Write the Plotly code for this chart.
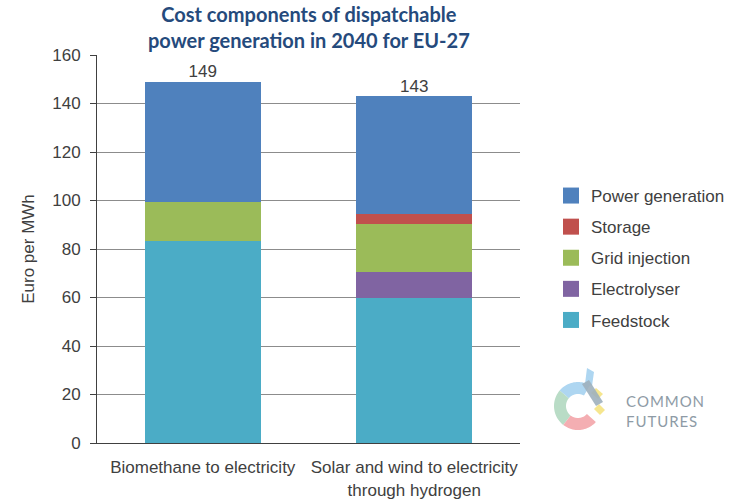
import math
import plotly.graph_objects as go

categories = ["Biomethane to electricity", "Solar and wind to electricity<br>through hydrogen"]
series_names = ["Feedstock", "Electrolyser", "Grid injection", "Storage", "Power generation"]
feedstock = [83.5, 60.0]
electrolyser = [0.0, 10.5]
grid_injection = [16.0, 20.0]
storage = [0.0, 4.0]
power_generation = [49.5, 48.5]
totals_text = ["149", "143"]
colors = {"Feedstock": "#4BACC6", "Electrolyser": "#8064A2", "Grid injection": "#9BBB59",
          "Storage": "#C0504D", "Power generation": "#4F81BD"}
y_ticks = [0, 20, 40, 60, 80, 100, 120, 140, 160]

values = [feedstock, electrolyser, grid_injection, storage, power_generation]
totals = [sum(v[i] for v in values) for i in range(len(categories))]

FONT = "Liberation Sans, Arial, sans-serif"
TXT = "#404040"

fig = go.Figure()
for name, vals in zip(series_names, values):
    fig.add_trace(go.Bar(x=categories, y=vals, name=name, marker_color=colors[name],
                         marker_line_width=0, width=0.55, showlegend=False))
# legend entries (larger square symbols), top item = top of the stack
for name in reversed(series_names):
    fig.add_trace(go.Scatter(x=[None], y=[None], mode="markers", name=name,
                             legendgroup=name,
                             marker=dict(symbol="square", size=16, color=colors[name])))
fig.add_trace(go.Scatter(x=categories, y=totals, mode="text", text=totals_text,
                         textposition="top center", showlegend=False,
                         textfont=dict(family=FONT, size=17, color=TXT)))

# logo geometry helpers (pixel -> paper)
L, T, W, H = 97, 55, 423, 388
def px(x):
    return (x - L) / W
def py(y):
    return (T + H - y) / H

def arc_path(cx, cy, r1, r2, a0, a1, n=24):
    pts = []
    for k in range(n + 1):
        a = math.radians(a0 + (a1 - a0) * k / n)
        pts.append((cx + r2 * math.cos(a), cy - r2 * math.sin(a)))
    for k in range(n, -1, -1):
        a = math.radians(a0 + (a1 - a0) * k / n)
        pts.append((cx + r1 * math.cos(a), cy - r1 * math.sin(a)))
    return "M " + " L ".join(f"{px(x):.5f},{py(y):.5f}" for x, y in pts) + " Z"

def poly_path(pts):
    return "M " + " L ".join(f"{px(x):.5f},{py(y):.5f}" for x, y in pts) + " Z"

shapes = []
cx, cy = 578, 406
for a0, a1, col in [(60, 140, "#AED6F1"), (140, 232, "#B9DCC6"), (232, 318, "#F4AEB2")]:
    shapes.append(dict(type="path", xref="paper", yref="paper", path=arc_path(cx, cy, 12, 24, a0, a1),
                       fillcolor=col, line_width=0, layer="above"))
shapes.append(dict(type="path", xref="paper", yref="paper",
                   path=poly_path([(587, 368), (594, 372), (592, 386), (585, 384)]),
                   fillcolor="#AED6F1", line_width=0))
shapes.append(dict(type="path", xref="paper", yref="paper",
                   path=poly_path([(596, 388), (603, 394), (598, 399), (591, 393)]),
                   fillcolor="#F6E68E", line_width=0))
shapes.append(dict(type="path", xref="paper", yref="paper",
                   path=poly_path([(599, 404), (605, 410), (600, 415), (594, 409)]),
                   fillcolor="#F6E68E", line_width=0))
shapes.append(dict(type="path", xref="paper", yref="paper",
                   path=poly_path([(582, 384), (589, 380), (603, 402), (596, 406)]),
                   fillcolor="#9FB0BC", line_width=0, opacity=0.9))

HS = "\u200a"
fig.update_layout(
    width=730, height=504,
    margin=dict(l=L, r=730 - L - W, t=T, b=504 - T - H, autoexpand=False),
    paper_bgcolor="white", plot_bgcolor="white",
    barmode="stack", bargap=0.45,
    font=dict(family=FONT, size=17, color=TXT),
    yaxis=dict(range=[0, 160], tickvals=y_ticks, showgrid=True, gridcolor="#8c8c8c", gridwidth=1,
               showline=True, linecolor=TXT, linewidth=1, ticks="outside", ticklen=6, tickcolor=TXT,
               zeroline=False, ticklabelstandoff=6,
               tickfont=dict(family=FONT, size=17, color=TXT),
               title=dict(text="Euro per MWh", font=dict(family=FONT, size=17, color=TXT), standoff=13)),
    xaxis=dict(showline=True, linecolor=TXT, linewidth=1, ticks="", showgrid=False,
               ticklabelstandoff=9,
               tickfont=dict(family=FONT, size=17, color=TXT)),
    legend=dict(x=px(551), xanchor="left", y=py(178), yanchor="top", traceorder="grouped",
                tracegroupgap=6, font=dict(family=FONT, size=17, color=TXT), itemsizing="trace",
                bgcolor="rgba(0,0,0,0)"),
    shapes=shapes,
    annotations=[
        dict(text="Cost components of dispatchable<br>power generation in 2040 for EU-27",
             xref="paper", yref="paper", x=0.5, y=1, xanchor="center", yanchor="bottom",
             yshift=1, showarrow=False,
             font=dict(family="Lato, Open Sans, sans-serif", size=20, color="#254A7C", weight="bold")),
        dict(text=HS.join("COMMON"), xref="paper", yref="paper", x=px(625), y=py(411),
             xanchor="left", yanchor="bottom", showarrow=False, borderpad=0,
             font=dict(family="Lato, sans-serif", size=15, color="#8E9BA6")),
        dict(text=HS.join("FUTURES"), xref="paper", yref="paper", x=px(625), y=py(411),
             xanchor="left", yanchor="top", showarrow=False, borderpad=0,
             font=dict(family="Lato, sans-serif", size=15, color="#8E9BA6")),
    ],
)

fig.write_html("out.html", post_script="document.body.style.margin='0';",
               config={"displayModeBar": False})
